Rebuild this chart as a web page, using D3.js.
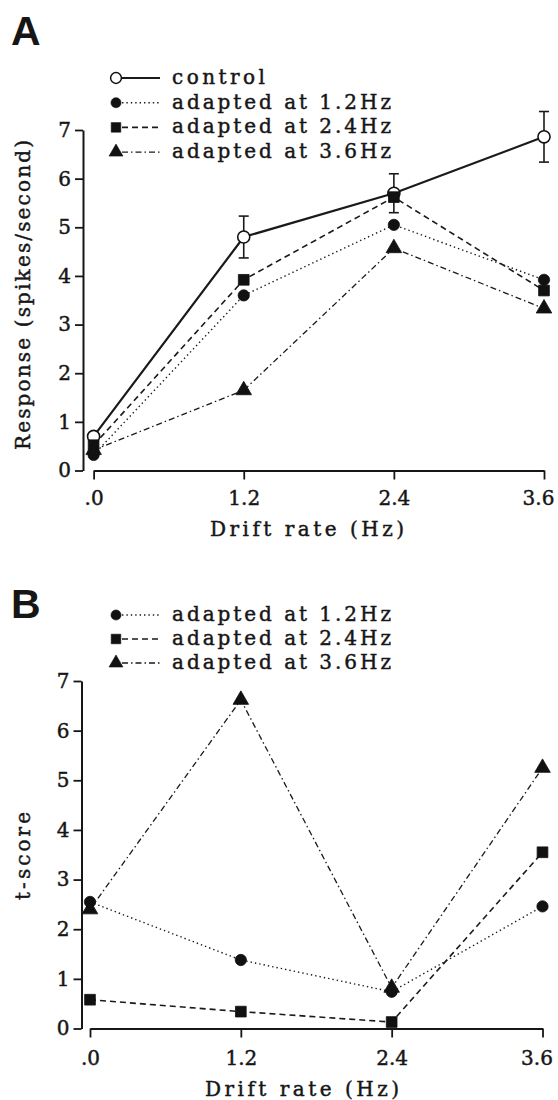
<!DOCTYPE html>
<html>
<head>
<meta charset="utf-8">
<script src="https://cdn.jsdelivr.net/npm/d3@7/dist/d3.min.js"></script>
<style>
  body { margin: 0; background: #fff; }
</style>
</head>
<body>
<div id="chart"></div>
<script>
// drift rates (Hz) and their tick labels
const driftRates = [0, 1.2, 2.4, 3.6];
const driftLabels = [".0", "1.2", "2.4", "3.6"];
const yTicks = [0, 1, 2, 3, 4, 5, 6, 7];

// panel A: response (spikes/second)
const respControl = [0.70, 4.80, 5.70, 6.86];
const respControlErr = [0, 0.43, 0.40, 0.52];
const resp12 = [0.32, 3.60, 5.05, 3.92];
const resp24 = [0.52, 3.92, 5.62, 3.70];
const resp36 = [0.42, 1.65, 4.57, 3.33];

// panel B: t-score
const t12 = [2.55, 1.38, 0.74, 2.46];
const t24 = [0.58, 0.34, 0.13, 3.55];
const t36 = [2.40, 6.62, 0.82, 5.25];

const legendControl = "control";
const legend12 = "adapted at 1.2Hz";
const legend24 = "adapted at 2.4Hz";
const legend36 = "adapted at 3.6Hz";

const W = 558, H = 1100;
const FS = 20;
const SERIF = "'DejaVu Serif', 'Liberation Serif', serif";
const INK = "#161616";
const svg = d3.select("#chart").append("svg").attr("width", W).attr("height", H);

// line styles per series
const styles = {
  control: { dash: null, width: 2.2, sym: d3.symbolCircle, open: true, size: 115 },
  a12: { dash: "1.4,3", width: 1.4, sym: d3.symbolCircle, open: false, size: 100 },
  a24: { dash: "6,4", width: 1.6, sym: d3.symbolSquare, open: false, size: 115 },
  a36: { dash: "6,3,1.5,3", width: 1.3, sym: d3.symbolTriangle, open: false, size: 105 }
};

function serifText(sel) {
  return sel.attr("font-family", SERIF).attr("font-size", FS)
    .attr("fill", INK).attr("stroke", INK).attr("stroke-width", 0.45);
}

function drawPanel(p) {
  const g = svg.append("g");
  const x = d3.scaleLinear().domain([0, 3.6]).range(p.xRange);
  const y = d3.scaleLinear().domain([0, 7]).range(p.yRange);

  // y axis
  const yAx = g.append("g")
    .attr("transform", `translate(${p.yAxisX},0)`)
    .call(d3.axisLeft(y).tickValues(yTicks).tickFormat(d3.format("d")).tickSize(8).tickSizeOuter(0).tickPadding(4));
  // x axis
  const xAx = g.append("g")
    .attr("transform", `translate(0,${p.yRange[0]})`)
    .call(d3.axisBottom(x).tickValues(driftRates).tickFormat((d, i) => driftLabels[i]).tickSize(9).tickSizeOuter(0).tickPadding(p.xPad));
  [yAx, xAx].forEach(a => {
    a.attr("font-family", SERIF).attr("font-size", FS);
    a.select(".domain").attr("stroke", INK).attr("stroke-width", 2);
    a.selectAll(".tick line").attr("stroke", INK).attr("stroke-width", 1.8);
    serifText(a.selectAll(".tick text"));
  });
  // last label sits against the right edge, as in the print
  xAx.selectAll(".tick text").filter(d => d === 3.6).attr("dx", -6);

  // series lines
  const line = d3.line().x((d, i) => x(driftRates[i])).y(d => y(d));
  p.series.forEach(s => {
    const st = styles[s.key];
    g.append("path").datum(s.values)
      .attr("d", line)
      .attr("fill", "none")
      .attr("stroke", "#1a1a1a")
      .attr("stroke-width", st.width)
      .attr("stroke-dasharray", st.dash);
  });

  // error bars
  p.series.filter(s => s.err).forEach(s => {
    s.values.forEach((v, i) => {
      const e = s.err[i];
      if (!e) return;
      const cx = x(driftRates[i]);
      g.append("line").attr("x1", cx).attr("x2", cx).attr("y1", y(v - e)).attr("y2", y(v + e))
        .attr("stroke", "#1a1a1a").attr("stroke-width", 1.6);
      [v - e, v + e].forEach(b => g.append("line")
        .attr("x1", cx - 5).attr("x2", cx + 5).attr("y1", y(b)).attr("y2", y(b))
        .attr("stroke", "#1a1a1a").attr("stroke-width", 1.6));
    });
  });

  // markers
  p.series.forEach(s => {
    const st = styles[s.key];
    g.selectAll(null).data(s.values).join("path")
      .attr("transform", (d, i) => `translate(${x(driftRates[i])},${y(d)})`)
      .attr("d", d3.symbol().type(st.sym).size(st.size))
      .attr("fill", st.open ? "#fff" : "#111")
      .attr("stroke", "#111")
      .attr("stroke-width", st.open ? 1.6 : 0.8);
  });

  // legend
  p.series.forEach((s, i) => {
    const st = styles[s.key];
    const ly = p.legendY + i * p.legendStep;
    g.append("path")
      .attr("transform", `translate(116,${ly})`)
      .attr("d", d3.symbol().type(st.sym).size(st.size * 0.8))
      .attr("fill", st.open ? "#fff" : "#111")
      .attr("stroke", "#111").attr("stroke-width", st.open ? 1.5 : 0.6);
    g.append("line").attr("x1", 122).attr("x2", 160).attr("y1", ly).attr("y2", ly)
      .attr("stroke", "#1a1a1a").attr("stroke-width", st.width).attr("stroke-dasharray", st.dash);
    serifText(g.append("text")).attr("x", 172).attr("y", ly + 6)
      .attr("textLength", s.key === "control" ? 93 : 219)
      .attr("lengthAdjust", "spacing")
      .text(s.label);
  });

  // axis titles
  serifText(g.append("text"))
    .attr("x", p.xTitleX).attr("y", p.xTitleY)
    .attr("text-anchor", "middle")
    .attr("textLength", 194).attr("lengthAdjust", "spacing")
    .text("Drift rate (Hz)");
  serifText(g.append("text"))
    .attr("transform", `translate(30,${p.yTitleY}) rotate(-90)`)
    .attr("text-anchor", "middle")
    .attr("textLength", p.yTitleLen).attr("lengthAdjust", "spacing")
    .text(p.yTitle);

  // panel letter
  g.append("text")
    .attr("x", 11).attr("y", p.letterY)
    .attr("font-size", 41).attr("font-weight", "bold")
    .attr("font-family", "'Liberation Sans', Arial, sans-serif")
    .attr("fill", INK)
    .text(p.letter);
}

drawPanel({
  letter: "A", letterY: 45,
  xRange: [93.6, 544], yRange: [470.5, 130], yAxisX: 83, xPad: 11,
  legendY: 78, legendStep: 24.7,
  xTitleX: 307, xTitleY: 536,
  yTitle: "Response (spikes/second)", yTitleY: 295, yTitleLen: 310,
  series: [
    { key: "control", values: respControl, err: respControlErr, label: legendControl },
    { key: "a12", values: resp12, label: legend12 },
    { key: "a24", values: resp24, label: legend24 },
    { key: "a36", values: resp36, label: legend36 }
  ]
});

drawPanel({
  letter: "B", letterY: 618,
  xRange: [90, 542.5], yRange: [1028.5, 681], yAxisX: 81.5, xPad: 13,
  legendY: 615, legendStep: 24,
  xTitleX: 302, xTitleY: 1096,
  yTitle: "t-score", yTitleY: 856, yTitleLen: 88,
  series: [
    { key: "a12", values: t12, label: legend12 },
    { key: "a24", values: t24, label: legend24 },
    { key: "a36", values: t36, label: legend36 }
  ]
});
</script>
</body>
</html>
